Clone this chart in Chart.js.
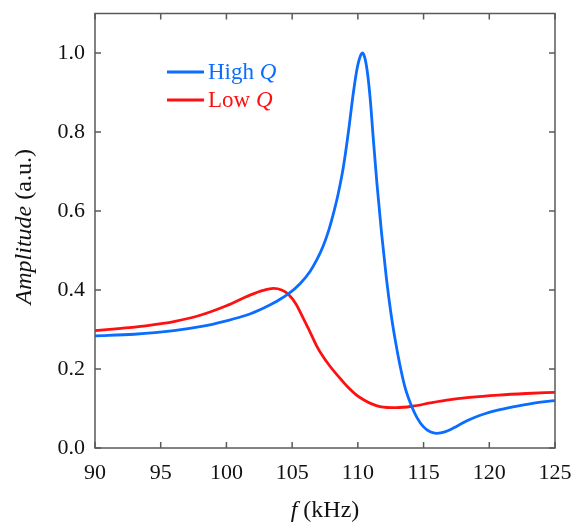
<!DOCTYPE html>
<html>
<head>
<meta charset="utf-8">
<script src="https://cdn.jsdelivr.net/npm/chart.js@4/dist/chart.umd.min.js"></script>
<style>
  html, body { margin: 0; padding: 0; background: #fff; }
  #wrap { width: 578px; height: 525px; }
</style>
</head>
<body>
<div id="wrap"><canvas id="grafico" width="578" height="525"></canvas></div>
<script>
// datos
const highQFreq = [90, 93, 96, 98, 100, 101.5, 102.8, 103.8, 104.71, 105.6, 106.36, 106.9, 107.37, 107.8, 108.13, 108.5, 108.9, 109.28, 109.66, 109.95, 110.2, 110.37, 110.55, 110.75, 110.95, 111.17, 111.45, 111.8, 112.17, 112.5, 112.85, 113.2, 113.6, 114.1, 114.5, 114.98, 115.5, 116.0, 116.4, 116.8, 117.3, 117.8, 118.3, 118.78, 119.6, 120.56, 121.8, 123.3, 125];
const highQAmp = [0.284, 0.288, 0.297, 0.307, 0.322, 0.336, 0.354, 0.371, 0.390, 0.416, 0.447, 0.478, 0.512, 0.553, 0.592, 0.643, 0.712, 0.800, 0.900, 0.962, 0.993, 1.0, 0.985, 0.945, 0.880, 0.785, 0.670, 0.545, 0.430, 0.345, 0.272, 0.210, 0.152, 0.105, 0.077, 0.054, 0.041, 0.037, 0.039, 0.043, 0.051, 0.060, 0.069, 0.076, 0.086, 0.095, 0.104, 0.113, 0.120];

const lowQFreq = [90, 92, 94, 96, 98, 100, 101.79, 102.8, 103.57, 104.2, 104.71, 105.3, 105.85, 106.4, 106.87, 107.4, 107.88, 108.6, 109.27, 109.9, 110.5, 111.1, 111.68, 112.95, 114.2, 115.5, 116.76, 118.5, 120.7, 122.8, 125];
const lowQAmp = [0.297, 0.303, 0.310, 0.320, 0.336, 0.360, 0.387, 0.399, 0.404, 0.400, 0.389, 0.364, 0.328, 0.291, 0.258, 0.229, 0.207, 0.178, 0.153, 0.134, 0.121, 0.111, 0.105, 0.102, 0.106, 0.114, 0.121, 0.128, 0.134, 0.138, 0.141];

const xTicks = [90, 95, 100, 105, 110, 115, 120, 125];
const yTicks = [0, 0.2, 0.4, 0.6, 0.8, 1.0];

const azul = '#0a6dff';
const rojo = '#ff1010';
const ejeColor = '#5a5a5a';
const fuente = '"Liberation Serif", "DejaVu Serif", serif';

function puntos(xs, ys) {
  return xs.map((x, i) => ({ x: x, y: ys[i] }));
}

// texto con una parte en cursiva
function textoMixto(c, partes, x, y, size) {
  let px = x;
  partes.forEach(([t, cursiva]) => {
    c.font = (cursiva ? 'italic ' : '') + size + 'px ' + fuente;
    c.fillText(t, px, y);
    px += c.measureText(t).width;
  });
}
function anchoMixto(c, partes, size) {
  let w = 0;
  partes.forEach(([t, cursiva]) => {
    c.font = (cursiva ? 'italic ' : '') + size + 'px ' + fuente;
    w += c.measureText(t).width;
  });
  return w;
}

// marco, marcas hacia dentro, leyenda y títulos
const extras = {
  id: 'extras',
  afterDraw(chart) {
    const c = chart.ctx;
    const a = chart.chartArea;
    const sx = chart.scales.x, sy = chart.scales.y;
    c.save();
    c.strokeStyle = ejeColor;
    c.lineWidth = 1.5;
    c.strokeRect(a.left, a.top, a.right - a.left, a.bottom - a.top);
    c.beginPath();
    xTicks.forEach(v => {
      const px = sx.getPixelForValue(v);
      c.moveTo(px, a.bottom); c.lineTo(px, a.bottom - 6);
      c.moveTo(px, a.top); c.lineTo(px, a.top + 6);
    });
    yTicks.forEach(v => {
      const py = sy.getPixelForValue(v);
      c.moveTo(a.left, py); c.lineTo(a.left + 6, py);
      c.moveTo(a.right, py); c.lineTo(a.right - 6, py);
    });
    c.stroke();

    // leyenda
    const items = [['High ', azul, 72], ['Low ', rojo, 100]];
    c.lineWidth = 2.8;
    c.textBaseline = 'middle';
    items.forEach(([t, col, y]) => {
      c.strokeStyle = col;
      c.beginPath(); c.moveTo(167, y); c.lineTo(204, y); c.stroke();
      c.fillStyle = col;
      textoMixto(c, [[t, false], ['Q', true]], 208, y + 1, 23);
    });

    // título eje x
    c.fillStyle = '#111';
    c.textBaseline = 'alphabetic';
    const tx = [['f', true], [' (kHz)', false]];
    const wx = anchoMixto(c, tx, 24);
    textoMixto(c, tx, (a.left + a.right) / 2 - wx / 2, 517, 24);

    // título eje y
    c.translate(31, (a.top + a.bottom) / 2 - 4);
    c.rotate(-Math.PI / 2);
    const ty = [['Amplitude', true], [' (a.u.)', false]];
    const wy = anchoMixto(c, ty, 24);
    textoMixto(c, ty, -wy / 2, 0, 24);
    c.restore();
  }
};

const ctx = document.getElementById('grafico').getContext('2d');
const grafico = new Chart(ctx, {
  type: 'line',
  data: {
    datasets: [
      {
        label: 'High Q',
        data: puntos(highQFreq, highQAmp),
        borderColor: azul,
        borderWidth: 2.8,
        pointRadius: 0,
        cubicInterpolationMode: 'monotone',
        fill: false
      },
      {
        label: 'Low Q',
        data: puntos(lowQFreq, lowQAmp),
        borderColor: rojo,
        borderWidth: 2.8,
        pointRadius: 0,
        cubicInterpolationMode: 'monotone',
        fill: false
      }
    ]
  },
  options: {
    responsive: false,
    animation: false,
    layout: { padding: { left: 0, right: 23, top: 13.5, bottom: 0 } },
    plugins: {
      legend: { display: false },
      tooltip: { enabled: false }
    },
    scales: {
      x: {
        type: 'linear',
        min: 90,
        max: 125,
        afterBuildTicks: s => { s.ticks = xTicks.map(v => ({ value: v })); },
        afterFit: s => { s.height = 77; s.paddingLeft = 0; s.paddingRight = 0; },
        grid: { display: false, drawTicks: false },
        border: { display: false },
        ticks: {
          color: '#111',
          padding: 12,
          maxRotation: 0,
          font: { family: fuente, size: 22 }
        }
      },
      y: {
        type: 'linear',
        min: 0,
        max: 1.1,
        afterBuildTicks: s => { s.ticks = yTicks.map(v => ({ value: v })); },
        afterFit: s => { s.width = 95; s.paddingTop = 0; s.paddingBottom = 0; },
        grid: { display: false, drawTicks: false },
        border: { display: false },
        ticks: {
          color: '#111',
          padding: 10,
          font: { family: fuente, size: 22 },
          callback: v => v.toFixed(1)
        }
      }
    }
  },
  plugins: [extras]
});
</script>
</body>
</html>
